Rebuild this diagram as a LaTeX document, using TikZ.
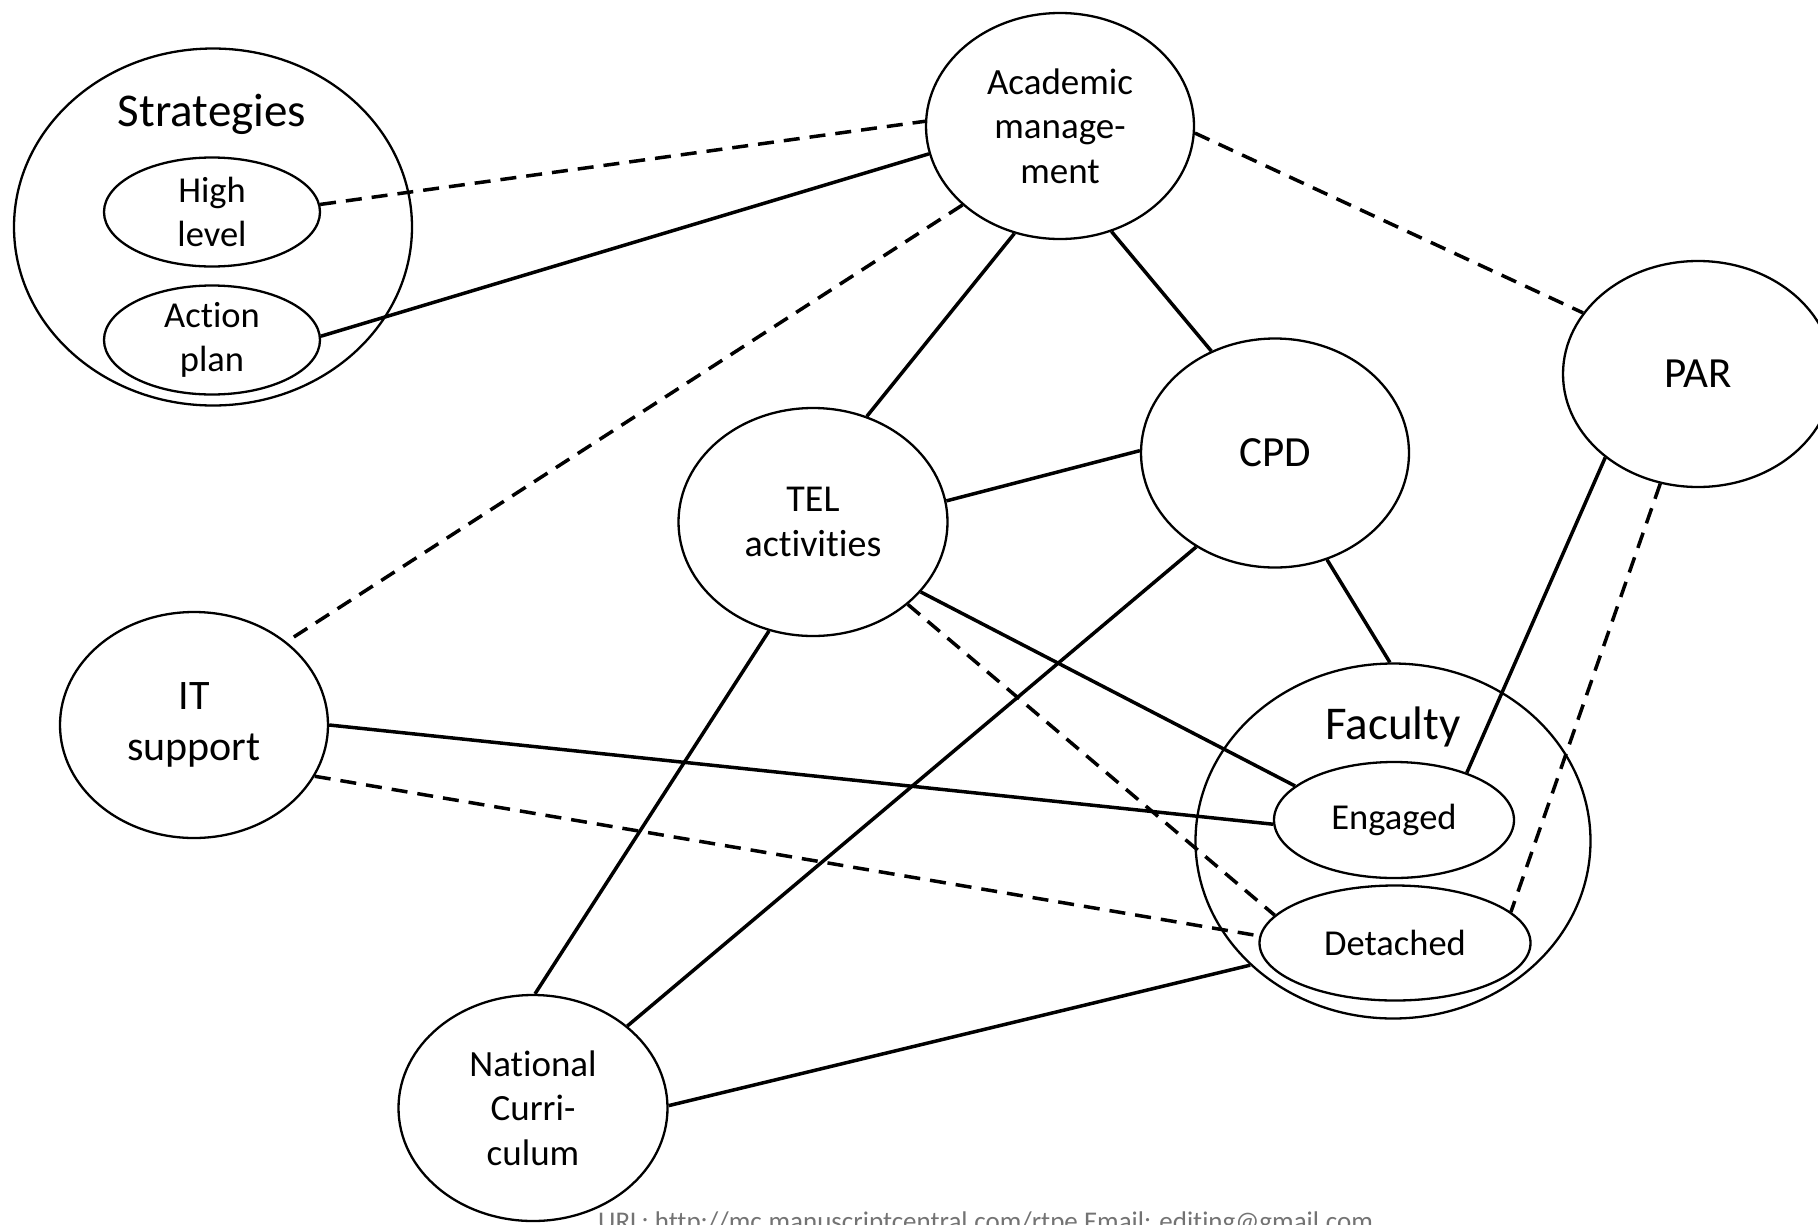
\documentclass[tikz,border=0pt]{standalone}
\usepackage{fontspec}
\setmainfont{Carlito}[Ligatures=NoCommon]
\usetikzlibrary{shapes.geometric}

\begin{document}
\begin{tikzpicture}[
    x=1pt, y=-1pt,
    bubble/.style={ellipse, draw, line width=2.3pt, inner sep=0pt, minimum width=268pt, minimum height=226pt, align=center, font=\fontsize{37}{44.6}\selectfont},
    subbubble/.style={ellipse, draw, line width=2.3pt, inner sep=0pt, align=center, font=\fontsize{36.5}{44.6}\selectfont},
    grouplabel/.style={inner sep=0pt, font=\fontsize{47}{56}\selectfont},
    link/.style={line width=3.5pt},
    weak/.style={line width=3.5pt, dash pattern=on 16pt off 10pt}
]

% Canvas
\path[use as bounding box, fill=white] (0,0) rectangle (1818,1224);
\clip (0,0) rectangle (1818,1224);

% Groups with their inner ellipses
\node [ellipse, draw, line width=2.3pt, minimum width=398pt, minimum height=357pt] (strat) at (213,227) {};
\node [grouplabel] (stratlabel) at (212,114) {Strategies};
\node [subbubble, minimum width=216pt, minimum height=109pt] (high) at (212,212) {High\\level};
\node [subbubble, minimum width=216pt, minimum height=109pt] (action) at (212,340) {Action\\plan};

\node [ellipse, draw, line width=2.3pt, minimum width=395pt, minimum height=355pt] (fac) at (1393,841) {};
\node [grouplabel] (faclabel) at (1393,727) {Faculty};
\node [subbubble, minimum width=240pt, minimum height=116pt] (eng) at (1394,820) {Engaged};
\node [subbubble, minimum width=271pt, minimum height=115pt] (det) at (1395,943) {Detached};

% Single ellipses
\node [bubble] (acad) at (1060,126) {Academic\\manage-\\ment};
\node [bubble, font=\fontsize{43}{52}\selectfont, minimum width=270pt] (par) at (1698,374) {PAR};
\node [bubble, font=\fontsize{43}{52}\selectfont, minimum height=229pt] (cpd) at (1275,453) {CPD};
\node [bubble, font=\fontsize{38}{45}\selectfont, minimum width=269pt, minimum height=228pt] (tel) at (813,522) {TEL\\activities};
\node [bubble, font=\fontsize{42}{51}\selectfont] (it) at (194,725) {IT\\support};
\node [bubble, minimum width=269pt] (nat) at (533,1108) {National\\Curri-\\culum};

% Links
\draw [weak] (high.4) -- (acad.178);
\draw [link] (action.2) -- (acad.192);
\draw [weak] (acad.219) -- (it.42);
\draw [weak] (acad.357) -- (par.152);
\draw [link] (acad.247) -- (tel.63);
\draw [link] (acad.296) -- (cpd.122);
\draw [link] (tel.9) -- (cpd.179);
\draw [link] (tel.327) -- (eng.161);
\draw [weak] (tel.319) -- (det.167);
\draw [link] (cpd.296) -- (fac.91);
\draw [link] (cpd.230) -- (nat.41);
\draw [link] (tel.248) -- (nat.89);
\draw [link] (it.0) -- (eng.182);
\draw [weak] (it.337) -- (det.177);
\draw [link] (nat.1) -- (fac.221);
\draw [link] (par.222) -- (eng.33);
\draw [weak] (par.251) -- (det.15);

% Footer
\node [anchor=base west, inner sep=0pt, text=black!55, font=\fontsize{27}{32}\selectfont] (url) at (598,1230.5) {URL: http://mc.manuscriptcentral.com/rtpe Email: editing@gmail.com};

\end{tikzpicture}
\end{document}
